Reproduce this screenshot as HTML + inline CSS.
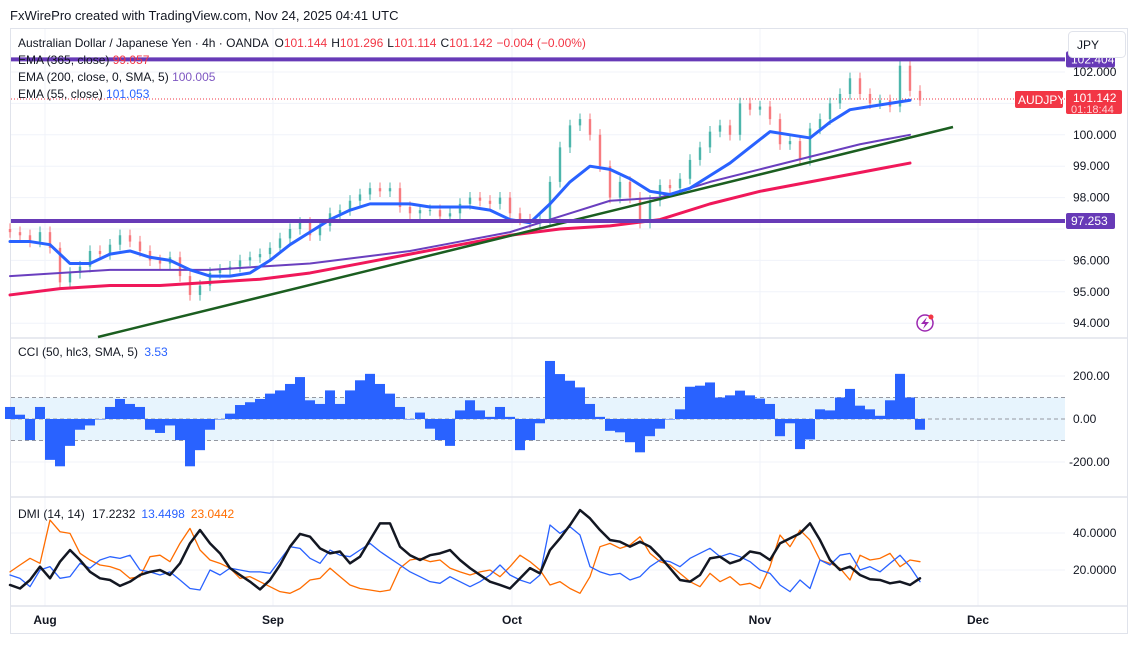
<!DOCTYPE html>
<html><head><meta charset="utf-8">
<style>
html,body{margin:0;padding:0;background:#fff;}
body{width:1130px;height:646px;overflow:hidden;font-family:"Liberation Sans",sans-serif;}
svg text{font-family:"Liberation Sans",sans-serif;}
</style></head>
<body>
<svg id="chart" width="1130" height="646" xmlns="http://www.w3.org/2000/svg">
<text x="10" y="20" font-size="13" fill="#131722">FxWirePro created with TradingView.com, Nov 24, 2025 04:41 UTC</text>
<rect x="10.5" y="28.5" width="1117" height="605" fill="none" stroke="#e0e3eb"/>
<g id="grid"></g>
<g id="price"></g>
<g id="cci"></g>
<g id="dmi"></g>
<g id="axes"></g>
<g id="legend">
<text x="18" y="47" font-size="12" fill="#131722">Australian Dollar / Japanese Yen · 4h · OANDA <tspan dx="3">O</tspan><tspan fill="#f23645">101.144</tspan><tspan dx="4">H</tspan><tspan fill="#f23645">101.296</tspan><tspan dx="4">L</tspan><tspan fill="#f23645">101.114</tspan><tspan dx="4">C</tspan><tspan fill="#f23645">101.142</tspan><tspan dx="4" fill="#f23645">−0.004 (−0.00%)</tspan></text>
<text x="18" y="64" font-size="12" fill="#131722">EMA (365, close) <tspan fill="#f23645">99.057</tspan></text>
<text x="18" y="81" font-size="12" fill="#131722">EMA (200, close, 0, SMA, 5) <tspan fill="#7e57c2">100.005</tspan></text>
<text x="18" y="98" font-size="12" fill="#131722">EMA (55, close) <tspan fill="#2962ff">101.053</tspan></text>
<text x="18" y="356" font-size="12" fill="#131722">CCI (50, hlc3, SMA, 5) <tspan fill="#2962ff" dx="3">3.53</tspan></text>
<text x="18" y="518" font-size="12" fill="#131722">DMI (14, 14) <tspan dx="4">17.2232</tspan><tspan dx="6" fill="#2962ff">13.4498</tspan><tspan dx="6" fill="#ff6d00">23.0442</tspan></text>
</g>
</svg>
<script>
// ---- data ----
const priceClose = [96.9,96.8,96.6,96.9,96.4,95.3,95.6,95.8,96.3,96.2,96.5,96.8,96.6,96.3,96.0,95.9,96.1,95.5,94.9,95.2,95.6,95.7,95.8,96.0,96.1,96.2,96.4,96.7,97.0,97.2,96.8,97.1,97.5,97.6,97.9,98.1,98.3,98.2,98.3,97.7,97.5,97.6,97.6,97.4,97.5,97.8,98.0,97.9,97.8,98.0,97.5,97.3,97.2,97.3,98.5,99.6,100.3,100.5,100.0,99.0,98.0,98.5,98.0,97.2,97.9,98.4,98.3,98.6,99.2,99.6,100.1,100.3,100.0,101.0,100.8,100.9,100.5,99.7,99.8,99.2,100.2,100.5,101.0,101.3,101.8,101.3,101.0,101.1,100.9,102.2,101.4,101.1];
const ema55 = [96.6,96.6,96.5,95.9,95.9,96.2,96.3,96.1,96.0,95.7,95.5,95.5,95.6,96.0,96.5,96.9,97.3,97.6,97.8,97.8,97.8,97.7,97.7,97.7,97.6,97.3,97.2,97.8,98.5,99.0,98.9,98.6,98.2,98.1,98.3,98.7,99.1,99.6,100.1,100.0,99.9,100.4,100.8,100.9,101.0,101.1];
const ema200 = [95.5,95.6,95.7,95.7,95.7,95.8,95.9,96.1,96.3,96.6,96.9,97.4,97.9,98.0,98.5,98.9,99.3,99.7,100.0];
const ema365 = [94.9,95.1,95.2,95.2,95.3,95.4,95.6,95.9,96.2,96.5,96.8,97.0,97.1,97.3,97.8,98.2,98.5,98.8,99.1];
const hLevels = [102.404, 97.253];
const priceTicks = [94,95,96,97,98,99,100,101,102];
const cciVals = [56,20,-98,56,-190,-220,-125,-50,-30,0,56,93,70,56,-50,-65,-30,-98,-220,-145,-50,0,25,65,78,93,118,133,163,195,87,70,133,70,133,180,210,163,118,56,0,30,-45,-98,-125,40,87,40,10,56,10,-145,-98,-20,270,209,178,147,70,10,-55,-62,-108,-155,-80,-45,0,45,150,155,170,100,110,132,110,95,70,-80,-20,-140,-95,45,40,100,140,62,45,15,87,210,100,-50];
const cciTicks = [200,0,-200];
const adx = [11.9,10,14.6,21.8,15.5,24.5,30.8,25.4,19,15.5,14.6,11.4,13.7,17.3,19,20,17.3,23.6,34.4,41.6,34.4,29,21,17.3,13.7,9.5,14.6,22.7,32.6,39.5,38,31.7,29,30,23.6,27.2,36.2,45.2,45.2,32.6,28,25.4,28,29,30.8,25.4,21,17.3,13.7,11.9,10,15.5,21,18.2,30.8,37.1,44.3,52.4,47.9,41.6,36.2,35.3,32.6,35.3,32.6,27.2,21,14.6,13.7,17.3,26.3,27.2,23.6,25.4,30,29,25.4,34.4,37.1,39.8,45.2,36.2,25.4,20,21.8,17.3,15,14.6,12.8,13.7,11.9,15.5];
const diPlus = [17.3,15.5,11,20,21.8,15.5,16.4,23.6,21,25.4,27.2,26.3,28,20,19,17.3,19,14.6,10,9.2,20,17.3,21,20,19,19,18.2,25.4,32.6,31.7,26.3,23.6,30.8,28,27.2,30.8,34.4,30,26.3,22.7,19,16.4,13.7,12.8,16.4,13.7,11,13.7,17.3,22.7,17.3,14.6,12.8,17.3,44.3,39.8,43.4,38.9,21.8,19,17.3,18.2,14.6,16.4,21.8,25.4,24.5,21.8,26.3,29,31.7,27.2,29,27.2,24.5,20,18.2,11.9,8.3,14.6,10,25.4,22.7,28,29,20,21.8,19,23.6,28,21.8,13.7];
const diMinus = [19,22.7,26.3,23.6,47,40.7,39.8,29,25.4,22.7,21.8,20,15.5,16.4,27.2,28,24.5,34.4,42.5,30.8,25.4,23.6,21,15.5,16.4,13.7,11,8.3,7.4,10,14.6,15.5,21,16.4,11.9,10,9.2,8.3,9.2,21,25.4,26.3,24.5,25.4,21,19,17.3,19,20,16.4,21.8,28,24.5,20,11.9,13.7,10,7.4,16.4,32.6,34.4,31.7,33.5,38,29,24.5,22.7,18.2,13.7,11,18.2,13.7,16.4,11.9,12.8,10,21.8,38.9,32.6,41.6,36.2,25.4,23.6,21,14.6,28,25.4,26.3,29,21.8,25.4,24.5];
const dmiTicks = [40,20];
const monthLabels = ["Aug","Sep","Oct","Nov","Dec"];
const monthBarIndex = [3.5,26.3,50.2,75.0,96.8];
// ---- scales ----
const NS="http://www.w3.org/2000/svg";
const X0=10, STEP=10;
const xIdx = i => X0 + i*STEP;
const yPrice = p => 72 + (102-p)*31.4;
const yCci = v => 419 - v*0.215;
const yDmi = v => 570 - (v-20)*1.85;
function mk(tag, attrs, parent){const e=document.createElementNS(NS,tag);for(const k in attrs)e.setAttribute(k,attrs[k]);parent.appendChild(e);return e;}
const grid=document.getElementById('grid'), price=document.getElementById('price'), cci=document.getElementById('cci'), dmi=document.getElementById('dmi'), axes=document.getElementById('axes');
// grid
monthBarIndex.forEach((d)=>{const l=mk('line',{x1:xIdx(d),x2:xIdx(d),y1:29,y2:606,stroke:'#f0f3fa'},grid);

});
priceTicks.forEach(t=>{const l=mk('line',{x1:11,x2:1065,y1:yPrice(t),y2:yPrice(t),stroke:'#f0f3fa'},grid);

});
[200,-200].forEach(t=>{const l=mk('line',{x1:11,x2:1065,y1:yCci(t),y2:yCci(t),stroke:'#f0f3fa'},grid);

});
dmiTicks.forEach(t=>{const l=mk('line',{x1:11,x2:1065,y1:yDmi(t),y2:yDmi(t),stroke:'#f0f3fa'},grid);

});
[338,497,606].forEach(y=>{const l=mk('line',{x1:11,x2:1127,y1:y,y2:y,stroke:'#e0e3eb',"stroke-width":1.5},grid);

});
// current price dotted line
const cp=mk('line',{x1:11,x2:1065,y1:yPrice(101.142),y2:yPrice(101.142),stroke:'#f23645',"stroke-dasharray":"1 2","stroke-width":1},price);


// candles
priceClose.forEach((c,i)=>{
  const o = i>0?priceClose[i-1]:c+0.1;
  const up=c>=o, col=up?'#4db6ac':'#f77c80';
  const x=xIdx(i);
  const hi=Math.max(o,c)+0.18, lo=Math.min(o,c)-0.18;
  const w=mk('line',{x1:x,x2:x,y1:yPrice(hi),y2:yPrice(lo),stroke:col,"stroke-width":1},price);
  
  
  const b=mk('rect',{x:x-1.2,y:yPrice(Math.max(o,c)),width:2.4,height:Math.max(1,Math.abs(yPrice(o)-yPrice(c))),fill:col},price);
  
  
});
// EMAs
function poly(arr, step, yf, color, w, parent, name){
  const pts=arr.map((v,i)=>(X0+i*step)+','+yf(v)).join(' ');
  const p=mk('polyline',{points:pts,fill:'none',stroke:color,"stroke-width":w,"stroke-linejoin":"round","stroke-linecap":"round"},parent);
  
  
}
poly(ema365,50,yPrice,'#f0185a',3,price,'ema365-line');
poly(ema200,50,yPrice,'#6a3fbf',2,price,'ema200-line');
// trendline
const tl=mk('line',{x1:98,y1:337,x2:953,y2:127,stroke:'#1b5e20',"stroke-width":2.5},price);


poly(ema55,20,yPrice,'#2962ff',3,price,'ema55-line');
// horizontal levels
hLevels.forEach(v=>{const l=mk('line',{x1:11,x2:1065,y1:yPrice(v)+0,y2:yPrice(v),stroke:'#673ab7',"stroke-width":4},price);

});
// CCI band
const band=mk('rect',{x:11,y:yCci(100),width:1054,height:yCci(-100)-yCci(100),fill:'#e3f2fd',opacity:0.85},cci);


[100,0,-100].forEach(v=>{const l=mk('line',{x1:11,x2:1065,y1:yCci(v),y2:yCci(v),stroke:'#9598a1',"stroke-dasharray":"4 3"},cci);

});
cciVals.forEach((v,i)=>{
  const x=xIdx(i)-STEP/2, y0=yCci(0), y1=yCci(v);
  const r=mk('rect',{x:x,y:Math.min(y0,y1),width:STEP,height:Math.max(0.5,Math.abs(y1-y0)),fill:'#2962ff'},cci);
  
  
});
// DMI
poly(diMinus,STEP,yDmi,'#ff6d00',1.3,dmi,'di-minus-line');
poly(diPlus,STEP,yDmi,'#2962ff',1.3,dmi,'di-plus-line');
poly(adx,STEP,yDmi,'#131722',2.5,dmi,'adx-line');
// axis labels
function txt(s,x,y,opts,parent,name){const t=mk('text',Object.assign({x:x,y:y,"font-size":12,fill:'#131722'},opts||{}),parent);t.textContent=s;

return t;}
priceTicks.forEach(t=>{ if(t===97||t===101) return; txt(t.toFixed(3),1073,yPrice(t)+4,{},axes,'price-tick-label');});
cciTicks.forEach(t=>txt(t.toFixed(2),t<0?1069:1073,yCci(t)+4,{},axes,'cci-tick-label'));
dmiTicks.forEach(t=>txt(t.toFixed(4),1073,yDmi(t)+4,{},axes,'dmi-tick-label'));
monthLabels.forEach((m,i)=>txt(m,xIdx(monthBarIndex[i]),624,{"font-weight":"bold","text-anchor":"middle"},axes,'time-axis-label'));
// level labels
hLevels.forEach(v=>{const y=yPrice(v);
 const r=mk('rect',{x:1066,y:y-8,width:49,height:16,rx:2,fill:'#673ab7'},axes);
 
 
 txt(v.toFixed(3),1071,y+4,{fill:'#fff'},axes,'level-price-text');});
// current price label
const sb=mk('rect',{x:1015,y:91,width:48,height:17,rx:2,fill:'#f23645'},axes);


txt('AUDJPY',1018,104,{fill:'#fff'},axes,'symbol-tag-text');
const pb=mk('rect',{x:1066,y:90,width:56,height:24,rx:2,fill:'#f23645'},axes);


txt('101.142',1073,102,{fill:'#fff'},axes,'current-price-text');
txt('01:18:44',1071,113,{fill:'#ffd0d4',"font-size":11},axes,'countdown-text');
// JPY button
const jb=mk('rect',{x:1068.5,y:31.5,width:57,height:26,rx:4,fill:'#fff',stroke:'#e0e3eb'},axes);


txt('JPY',1077,49,{},axes,'currency-button-text');
// lightning icon
const ic=mk('circle',{cx:925,cy:323,r:8,fill:'none',stroke:'#9c27b0',"stroke-width":1.5},axes);


const bolt=mk('path',{d:'M927 317 L921 324 L925 324 L923 329 L929 322 L925 322 Z',fill:'#9c27b0'},axes);


const dot=mk('circle',{cx:931,cy:317,r:2.5,fill:'#f23645'},axes);


</script>
</body></html>
